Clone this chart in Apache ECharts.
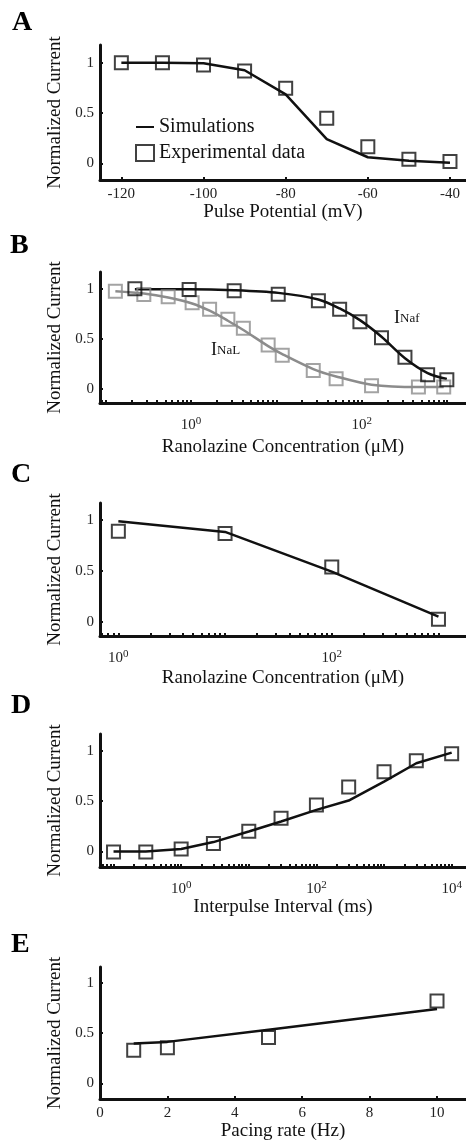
<!DOCTYPE html>
<html>
<head>
<meta charset="utf-8">
<title>Ranolazine block of sodium currents</title>
<script src="https://cdn.jsdelivr.net/npm/echarts@6.0.0/dist/echarts.min.js"></script>
<style>
  html, body { margin: 0; padding: 0; background: #fff; }
  #chart { width: 466px; height: 1144px; }
</style>
</head>
<body>
<div id="chart"></div>
<script>
// ---- Panel A: steady-state inactivation ----
const potentialA = [-120, -110, -100, -90, -80, -70, -60, -50, -40];
const simA = [1.0, 1.0, 0.994, 0.925, 0.685, 0.24, 0.06, 0.025, 0.005];
const expA = [1.0, 1.0, 0.977, 0.917, 0.745, 0.447, 0.165, 0.04, 0.018];
const ticksA = [-120, -100, -80, -60, -40];

// ---- Panel B: dose-response of INaf and INaL ----
const concNaf = [0.22, 0.95, 3.2, 10.5, 31, 55, 95, 170, 320, 590, 990];
const expNaf = [1.005, 0.997, 0.985, 0.95, 0.883, 0.80, 0.674, 0.514, 0.319, 0.143, 0.093];
const simNaf = [1.0, 1.0, 0.99, 0.963, 0.897, 0.807, 0.69, 0.524, 0.309, 0.16, 0.10];
const concNaL = [0.13, 0.28, 0.54, 1.03, 1.65, 2.7, 4.1, 8, 11.7, 27, 50, 130, 460, 910];
const expNaL = [0.98, 0.947, 0.923, 0.863, 0.798, 0.698, 0.608, 0.442, 0.337, 0.185, 0.103, 0.033, 0.02, 0.02];
const simNaL = [0.98, 0.957, 0.917, 0.857, 0.784, 0.684, 0.591, 0.43, 0.35, 0.2, 0.126, 0.043, 0.02, 0.02];

// ---- Panel C: use-dependent block ----
const concC = [1, 10, 100, 1000];
const expC = [0.887, 0.864, 0.536, 0.024];
const simC = [0.985, 0.88, 0.49, 0.05];

// ---- Panel D: recovery from inactivation ----
const intervalD = [0.1, 0.3, 1, 3, 10, 30, 100, 300, 1000, 3000, 10000];
const expD = [-0.005, -0.005, 0.024, 0.08, 0.2, 0.33, 0.46, 0.64, 0.79, 0.90, 0.97];
const simD = [0.0, 0.0, 0.024, 0.093, 0.198, 0.297, 0.413, 0.505, 0.693, 0.875, 0.98];

// ---- Panel E: rate dependence ----
const rateE = [1, 2, 5, 10];
const expE = [0.33, 0.354, 0.457, 0.82];
const simE = [0.397, 0.413, 0.535, 0.74];
const ticksE = [0, 2, 4, 6, 8, 10];

// shared tick labels
const yTicks = [0, 0.5, 1];
const decadeLabelsBC = [0, 2];
const decadeLabelsD = [0, 2, 4];

const FONT = "'Liberation Serif', 'Times New Roman', serif";
const INK = '#111';
const GRAY = '#8c8c8c';

// log-scale panels are plotted on log10 of the concentration / interval
const lg = v => Math.log10(v);
const pairs = (xs, ys, f) => xs.map((x, i) => [f ? f(x) : x, ys[i]]);

// decade + 2..9 minor positions (in log10 units) inside [lo, hi]
function logTickPositions(lo, hi) {
  const out = [];
  for (let d = Math.floor(lo); d <= Math.ceil(hi); d++) {
    for (let m = 1; m < 10; m++) {
      const v = d + Math.log10(m);
      if (v >= lo && v <= hi) out.push(v);
    }
  }
  return out;
}

const grids = [
  { left: 100, right: 0, top: 45, height: 135 },
  { left: 100, right: 0, top: 272, height: 131 },
  { left: 100, right: 0, top: 503, height: 133 },
  { left: 100, right: 0, top: 734, height: 133 },
  { left: 100, right: 0, top: 967, height: 132 }
];

const axisLineStyle = { lineStyle: { color: INK, width: 3 } };
const tickStyle = { inside: true, length: 3, lineStyle: { color: INK, width: 2 } };

function yAxisFor(i, min, max) {
  return {
    type: 'value', gridIndex: i, min: min, max: max,
    name: 'Normalized Current', nameLocation: 'middle', nameGap: 35,
    nameTextStyle: { fontFamily: FONT, fontSize: 19, color: INK },
    axisLine: Object.assign({ show: true, onZero: false }, axisLineStyle),
    axisTick: Object.assign({ show: true, customValues: yTicks }, tickStyle),
    axisLabel: { customValues: yTicks, margin: 6, fontFamily: FONT, fontSize: 15, color: '#222' },
    splitLine: { show: false }
  };
}

function linearX(i, min, max, ticks, name, gap) {
  return {
    type: 'value', gridIndex: i, min: min, max: max,
    name: name, nameLocation: 'middle', nameGap: gap,
    nameTextStyle: { fontFamily: FONT, fontSize: 19, color: INK },
    axisLine: Object.assign({ show: true, onZero: false }, axisLineStyle),
    axisTick: Object.assign({ show: true, customValues: ticks }, tickStyle),
    axisLabel: { customValues: ticks, margin: 7, fontFamily: FONT, fontSize: 15, color: '#222' },
    splitLine: { show: false }
  };
}

function logX(i, lo, hi, labels, name, gap) {
  return {
    type: 'value', gridIndex: i, min: lo, max: hi,
    name: name, nameLocation: 'middle', nameGap: gap,
    nameTextStyle: { fontFamily: FONT, fontSize: 19, color: INK },
    axisLine: Object.assign({ show: true, onZero: false }, axisLineStyle),
    axisTick: Object.assign({ show: true, customValues: logTickPositions(lo, hi) }, tickStyle),
    axisLabel: {
      customValues: labels, margin: 13,
      formatter: v => '{b|10}{s|' + Math.round(v) + '}',
      rich: {
        b: { fontFamily: FONT, fontSize: 15, color: '#222' },
        s: { fontFamily: FONT, fontSize: 11, color: '#222', padding: [0, 0, 7, 0] }
      }
    },
    splitLine: { show: false }
  };
}

function simLine(name, i, data, color, smooth) {
  return {
    name: name, type: 'line', xAxisIndex: i, yAxisIndex: i, data: data,
    symbol: 'none', smooth: smooth || false,
    lineStyle: { color: color, width: 2.5 }, itemStyle: { color: color }, z: 2
  };
}

function expSquares(name, i, data, color) {
  return {
    name: name, type: 'scatter', xAxisIndex: i, yAxisIndex: i, data: data,
    symbol: 'rect', symbolSize: 13,
    itemStyle: { color: 'rgba(0,0,0,0)', borderColor: color, borderWidth: 2 }, z: 3
  };
}

function panelLetter(letter, x, y) {
  return {
    type: 'text', left: x, top: y,
    style: { text: letter, font: 'bold 28px ' + FONT, fill: '#000' }
  };
}

function currentLabel(sub, x, y) {
  return {
    type: 'text', left: x, top: y,
    style: {
      text: '{i|I}{s|' + sub + '}',
      rich: {
        i: { fontFamily: FONT, fontSize: 18, fill: INK, padding: [0, 0, 2, 0] },
        s: { fontFamily: FONT, fontSize: 13, fill: INK }
      }
    }
  };
}

const option = {
  animation: false,
  backgroundColor: '#fff',
  grid: grids,
  legend: {
    left: 135, top: 117, orient: 'vertical', padding: 0,
    itemWidth: 18, itemHeight: 16, itemGap: 6,
    data: [
      { name: 'Simulations', itemStyle: { opacity: 0 } },
      { name: 'Experimental data' }
    ],
    textStyle: { fontFamily: FONT, fontSize: 20, color: INK },
    selectedMode: false
  },
  xAxis: [
    linearX(0, -125.2, -36.1, ticksA, 'Pulse Potential (mV)', 23),
    logX(1, -1.066, 3.22, decadeLabelsBC, 'Ranolazine Concentration (\u03BCM)', 35),
    logX(2, -0.172, 3.258, decadeLabelsBC, 'Ranolazine Concentration (\u03BCM)', 33),
    logX(3, -1.2, 4.212, decadeLabelsD, 'Interpulse Interval (ms)', 30),
    linearX(4, 0, 10.86, ticksE, 'Pacing rate (Hz)', 16)
  ],
  yAxis: [
    yAxisFor(0, -0.166, 1.176),
    yAxisFor(1, -0.14, 1.172),
    yAxisFor(2, -0.141, 1.164),
    yAxisFor(3, -0.154, 1.165),
    yAxisFor(4, -0.156, 1.159)
  ],
  series: [
    simLine('Simulations', 0, pairs(potentialA, simA), INK),
    expSquares('Experimental data', 0, pairs(potentialA, expA), INK),

    simLine('INaL simulation', 1, pairs(concNaL, simNaL, lg), GRAY, 0.3),
    expSquares('INaL data', 1, pairs(concNaL, expNaL, lg), GRAY),
    simLine('INaf simulation', 1, pairs(concNaf, simNaf, lg), INK, 0.3),
    expSquares('INaf data', 1, pairs(concNaf, expNaf, lg), INK),

    simLine('Use-dependent simulation', 2, pairs(concC, simC, lg), INK),
    expSquares('Use-dependent data', 2, pairs(concC, expC, lg), INK),

    simLine('Recovery simulation', 3, pairs(intervalD, simD, lg), INK),
    expSquares('Recovery data', 3, pairs(intervalD, expD, lg), INK),

    simLine('Rate simulation', 4, pairs(rateE, simE), INK),
    expSquares('Rate data', 4, pairs(rateE, expE), INK)
  ],
  graphic: [
    panelLetter('A', 12, 9),
    panelLetter('B', 10, 232),
    panelLetter('C', 11, 461),
    panelLetter('D', 11, 692),
    panelLetter('E', 11, 931),
    currentLabel('Naf', 394, 309),
    currentLabel('NaL', 211, 341)
  ]
};

const chart = echarts.init(document.getElementById('chart'), null, { renderer: 'canvas' });
chart.setOption(option);
</script>
</body>
</html>
